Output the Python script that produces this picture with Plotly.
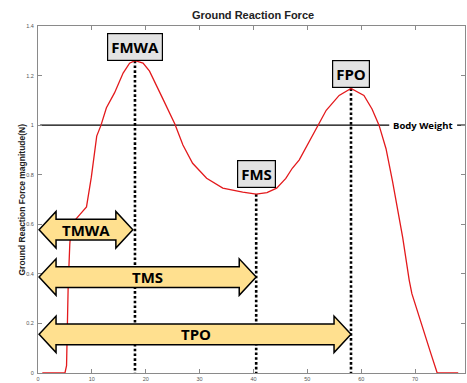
import plotly.graph_objects as go

# ---- data ----
force_x = [0.8, 5.0, 5.3, 5.6, 5.9, 6.2, 7.8, 9.0, 9.9, 10.9, 11.7, 12.7, 14.2, 15.8, 17.0,
           18.0, 19.5, 20.7, 23.2, 25.4, 26.9, 28.7, 31.3, 34.3, 38.0, 40.5, 42.5, 44.3,
           46.0, 47.2, 48.5, 50.2, 51.9, 53.5, 55.9, 58.1, 60.5, 62.0, 63.3, 64.6, 65.8,
           66.7, 67.7, 68.9, 69.4, 72.9, 74.1, 78.0]
force_y = [0.0, 0.0, 0.03, 0.35, 0.52, 0.60, 0.64, 0.67, 0.79, 0.956, 1.0, 1.07, 1.13, 1.21, 1.25,
           1.26, 1.25, 1.218, 1.105, 1.005, 0.92, 0.846, 0.786, 0.746, 0.73, 0.722, 0.728, 0.746,
           0.785, 0.826, 0.86, 0.93, 1.0, 1.06, 1.12, 1.148, 1.12, 1.065, 1.0, 0.905, 0.774,
           0.666, 0.546, 0.375, 0.32, 0.08, 0.0, 0.0]

event_labels = ["FMWA", "FMS", "FPO"]
event_x = [18.0, 40.5, 58.1]
event_y = [1.26, 0.722, 1.148]

phase_labels = ["TMWA", "TMS", "TPO"]
phase_start = [0.2, 0.2, 0.2]
phase_end = [17.6, 40.5, 58.1]
phase_y = [0.578, 0.387, 0.156]
phase_text_x = [8.9, 20.3, 29.3]

body_weight = 1.0
body_weight_label = "Body Weight"
body_weight_label_x = 71.5

x_range = [0, 79.26]
y_range = [0, 1.4]
x_ticks = [0, 10, 20, 30, 40, 50, 60, 70]
y_ticks = [0, 0.2, 0.4, 0.6, 0.8, 1.0, 1.2, 1.4]

# ---- geometry ----
W, H = 467, 383
ML, MR, MT, MB = 38, 1, 26, 6
sx = (W - ML - MR) / (x_range[1] - x_range[0])   # px per x unit
sy = (H - MT - MB) / (y_range[1] - y_range[0])   # px per y unit

fig = go.Figure()

# body weight line (broken where the label sits)
fig.add_trace(go.Scatter(x=[0.4, 65.2, None, 77.8, x_range[1]],
                         y=[body_weight, body_weight, None, body_weight, body_weight],
                         mode="lines", line=dict(color="black", width=1.3),
                         hoverinfo="skip", showlegend=False))

# dotted event lines
for ex, ey in zip(event_x, event_y):
    fig.add_trace(go.Scatter(x=[ex, ex], y=[ey, 0], mode="lines",
                             line=dict(color="black", width=2.6, dash="2.6px,2.2px"),
                             hoverinfo="skip", showlegend=False))

# force curve
fig.add_trace(go.Scatter(x=force_x, y=force_y, mode="lines",
                         line=dict(color="#e3191c", width=1.3),
                         hoverinfo="skip", showlegend=False))

# double-headed arrows
head_len = 17 / sx
head_half = 18.5 / sy
shaft_half = 10.5 / sy
shapes = []
for x0, x1, yc in zip(phase_start, phase_end, phase_y):
    pts = [
        (x0, yc),
        (x0 + head_len, yc + head_half),
        (x0 + head_len, yc + shaft_half),
        (x1 - head_len, yc + shaft_half),
        (x1 - head_len, yc + head_half),
        (x1, yc),
        (x1 - head_len, yc - head_half),
        (x1 - head_len, yc - shaft_half),
        (x0 + head_len, yc - shaft_half),
        (x0 + head_len, yc - head_half),
    ]
    path = "M " + " L ".join(f"{px:.4f},{py:.4f}" for px, py in pts) + " Z"
    shapes.append(dict(type="path", xref="x", yref="y", path=path,
                       fillcolor="#FFE08F", line=dict(color="black", width=1.5), layer="above"))

annotations = []
for lab, tx, yc in zip(phase_labels, phase_text_x, phase_y):
    annotations.append(dict(x=tx, y=yc, xref="x", yref="y", text=f"<b>{lab}</b>",
                            showarrow=False, font=dict(family="Open Sans", size=15, color="black")))

# event label boxes
shifts = [0, 6, 0]
for lab, ex, ey, s in zip(event_labels, event_x, event_y, shifts):
    annotations.append(dict(x=ex, y=ey, xref="x", yref="y", text=f"<b>{lab}</b>",
                            showarrow=False, yanchor="bottom", yshift=s,
                            bgcolor="#e3e3e3", bordercolor="black", borderwidth=1.2, borderpad=3,
                            font=dict(family="Open Sans", size=15, color="black")))

annotations.append(dict(x=body_weight_label_x, y=body_weight, xref="x", yref="y",
                        text=f"<b>{body_weight_label}</b>", showarrow=False,
                        font=dict(family="Open Sans", size=9.5, color="black")))

# y axis title
annotations.append(dict(x=0, y=0.5, xref="paper", yref="paper", xshift=-17,
                        xanchor="center", yanchor="middle",
                        text="<b>Ground Reaction Force magnitude(N)</b>", textangle=-90,
                        showarrow=False,
                        font=dict(family="Liberation Sans", size=8.5, color="#222222")))

axis_common = dict(showgrid=False, zeroline=False, showline=True, linecolor="#8a8a8a",
                   linewidth=1, mirror="ticks", ticks="inside", ticklen=4,
                   tickcolor="#8a8a8a",
                   tickfont=dict(family="Liberation Sans", size=5.5, color="#555555"))

fig.update_layout(
    width=W, height=H,
    margin=dict(l=ML, r=MR, t=MT, b=MB),
    paper_bgcolor="white", plot_bgcolor="white",
    title=dict(text="<b>Ground Reaction Force</b>", x=253 / W, xanchor="center",
               y=1 - 15 / H, yanchor="middle",
               font=dict(family="Liberation Sans", size=11, color="#222222")),
    xaxis=dict(range=x_range, tickvals=x_ticks, **axis_common),
    yaxis=dict(range=y_range, tickvals=y_ticks, ticklabelstandoff=2, **axis_common),
    shapes=shapes,
    annotations=annotations,
)

fig.write_html("out.html", config={"displayModeBar": False},
               post_script="document.body.style.margin='0';document.body.style.overflow='hidden';")
